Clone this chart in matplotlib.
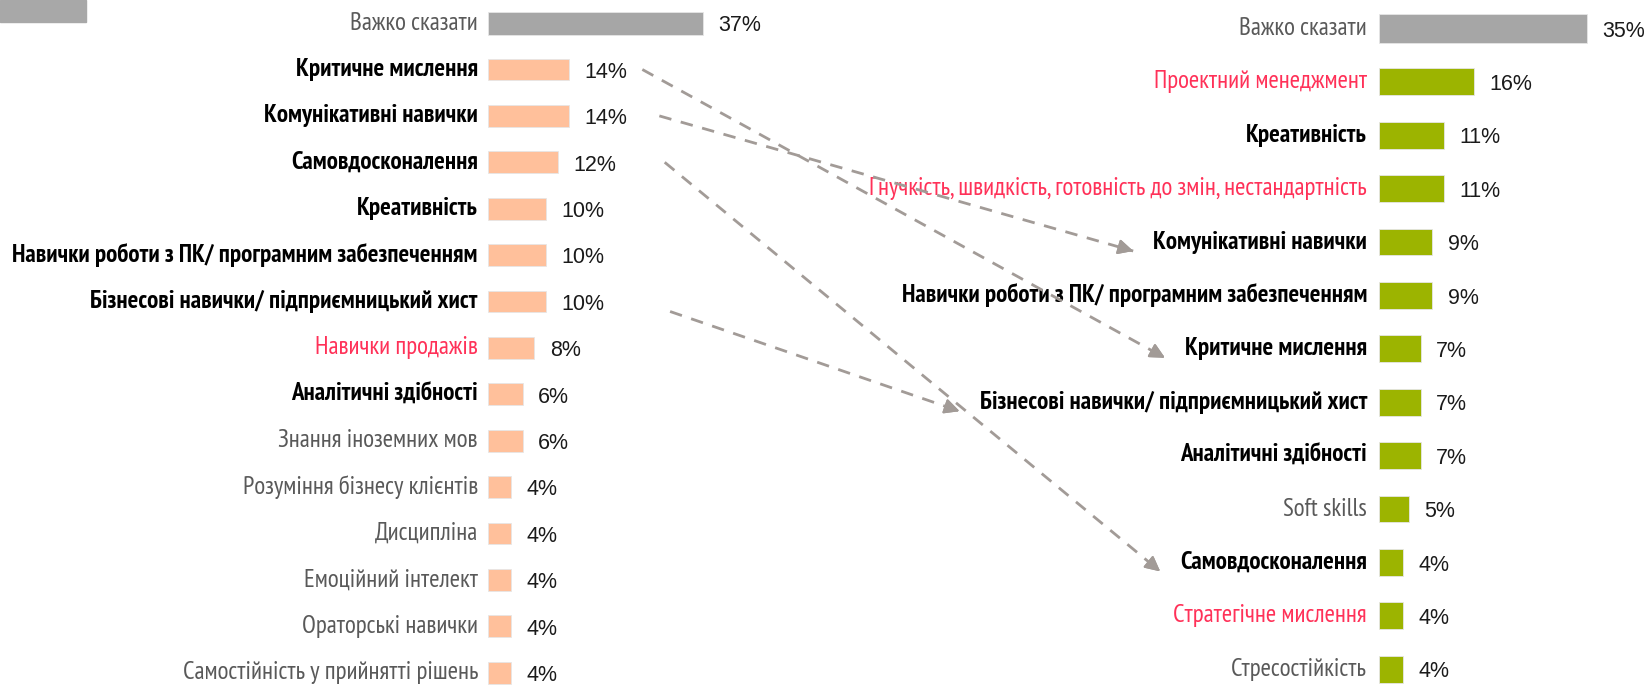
import matplotlib
matplotlib.use("Agg")
import matplotlib.pyplot as plt
from matplotlib.patches import Rectangle
from matplotlib.lines import Line2D

# ==========================================
# Data
# ==========================================

left_labels = [
    "Важко сказати",
    "Критичне мислення",
    "Комунікативні навички",
    "Самовдосконалення",
    "Креативність",
    "Навички роботи з ПК/ програмним забезпеченням",
    "Бізнесові навички/ підприємницький хист",
    "Навички продажів",
    "Аналітичні здібності",
    "Знання іноземних мов",
    "Розуміння бізнесу клієнтів",
    "Дисципліна",
    "Емоційний інтелект",
    "Ораторські навички",
    "Самостійність у прийнятті рішень",
]
left_values = [37, 14, 14, 12, 10, 10, 10, 8, 6, 6, 4, 4, 4, 4, 4]

right_labels = [
    "Важко сказати",
    "Проектний менеджмент",
    "Креативність",
    "Гнучкість, швидкість, готовність до змін, нестандартність",
    "Комунікативні навички",
    "Навички роботи з ПК/ програмним забезпеченням",
    "Критичне мислення",
    "Бізнесові навички/ підприємницький хист",
    "Аналітичні здібності",
    "Soft skills",
    "Самовдосконалення",
    "Стратегічне мислення",
    "Стресостійкість",
]
right_values = [35, 16, 11, 11, 9, 9, 7, 7, 7, 5, 4, 4, 4]

# labels highlighted in red on each side
left_marked = ["Навички продажів"]
right_marked = ["Проектний менеджмент",
                "Гнучкість, швидкість, готовність до змін, нестандартність",
                "Стратегічне мислення"]

# skills connected with arrows
moved = ["Критичне мислення", "Комунікативні навички",
         "Самовдосконалення", "Бізнесові навички/ підприємницький хист"]

# ==========================================
# Style
# ==========================================

W, H = 1647, 687
NARROW = ["PT Sans Narrow", "Roboto Condensed", "Fira Sans Condensed",
          "Open Sans Condensed", "DejaVu Sans"]
VALUE_FONT = ["Liberation Sans", "DejaVu Sans"]
GRAY_BAR = "#a6a6a6"
LEFT_BAR = "#ffc09b"
RIGHT_BAR = "#9cb400"
RED = "#ff3158"
GRAY_TEXT = "#595959"
ARROW = "#a29b97"

common = set(left_labels) & set(right_labels) - {"Важко сказати"}

fig = plt.figure(figsize=(W / 100, H / 100), dpi=100)


def px_axes(x0, px_per_unit, xmax, first_c, step, n):
    # axes placed in pixel terms, top-down rows
    top = first_c - step / 2
    bottom = first_c + step * (n - 0.5)
    ax = fig.add_axes([x0 / W, 1 - bottom / H, px_per_unit * xmax / W, (bottom - top) / H])
    ax.set_xlim(0, xmax)
    ax.set_ylim(n - 0.5, -0.5)
    ax.axis("off")
    return ax


def draw_side(ax, labels, values, marked, main_color, h_first, h_rest, lab_off, val_off):
    colors = [GRAY_BAR] + [main_color] * (len(values) - 1)
    heights = [h_first] + [h_rest] * (len(values) - 1)
    ax.barh(range(len(values)), values, height=heights, color=colors,
            edgecolor="#e6e6e6", linewidth=0.6)
    lab_texts = {}
    for i, (lab, v) in enumerate(zip(labels, values)):
        if lab in common:
            color, weight = "black", "bold"
        elif lab in marked:
            color, weight = RED, "normal"
        else:
            color, weight = GRAY_TEXT, "normal"
        t = ax.annotate(lab, xy=(0, i), xytext=(-lab_off, 0), textcoords="offset points",
                        ha="right", va="center", fontsize=18, color=color,
                        fontweight=weight, family=NARROW)
        lab_texts[lab] = t
        ax.annotate(f"{v}%", xy=(v, i), xytext=(val_off, -2), textcoords="offset points",
                    ha="left", va="center", fontsize=15.5, color="#1a1a1a",
                    family=VALUE_FONT)
    return lab_texts


# ==========================================
# Left chart
# ==========================================

ax_l = px_axes(488, 5.81, 40, 23.1, 46.4, len(left_values))
l_lab = draw_side(ax_l, left_labels, left_values, left_marked, LEFT_BAR,
                  0.5, 0.47, 7.2, 11)

# ==========================================
# Right chart
# ==========================================

ax_r = px_axes(1379, 5.94, 40, 28.4, 53.4, len(right_values))
r_lab = draw_side(ax_r, right_labels, right_values, right_marked, RIGHT_BAR,
                  0.54, 0.5, 8.6, 11)

# small gray logo block in the corner
fig.patches.append(Rectangle((0, 1 - 22 / H), 86 / W, 22 / H, transform=fig.transFigure,
                             color="#a8a8a8", zorder=0))

# ==========================================
# Arrows between the two rankings
# ==========================================

fig.canvas.draw()
renderer = fig.canvas.get_renderer()
to_fig = fig.transFigure.inverted()

for k, skill in enumerate(moved):
    i = left_labels.index(skill)
    bar_end = ax_l.transData.transform((left_values[i], i))
    lb = r_lab[skill].get_window_extent(renderer)
    x0 = bar_end[0] + 73 + 17 * k
    y0 = bar_end[1] - (10 if k == 3 else 0)
    y1 = (lb.y0 + lb.y1) / 2 - 9
    x1 = lb.x0 - 20
    (fx0, fy0), (fx1, fy1) = to_fig.transform([(x0, y0), (x1, y1)])
    fig.lines.append(Line2D([fx0, fx1], [fy0, fy1], transform=fig.transFigure,
                            color=ARROW, lw=2, linestyle=(0, (4.5, 3.5))))
    # solid head at the end of the dashed line
    dx, dy = fx1 - fx0, fy1 - fy0
    fig.add_artist(plt.annotate(
        "", xy=(fx1, fy1), xytext=(fx1 - dx * 0.02, fy1 - dy * 0.02),
        xycoords=fig.transFigure, textcoords=fig.transFigure,
        arrowprops=dict(arrowstyle="-|>,head_length=0.9,head_width=0.45",
                        color=ARROW, lw=1.5, shrinkA=0, shrinkB=0)))

fig.savefig("out.png", dpi=100)
